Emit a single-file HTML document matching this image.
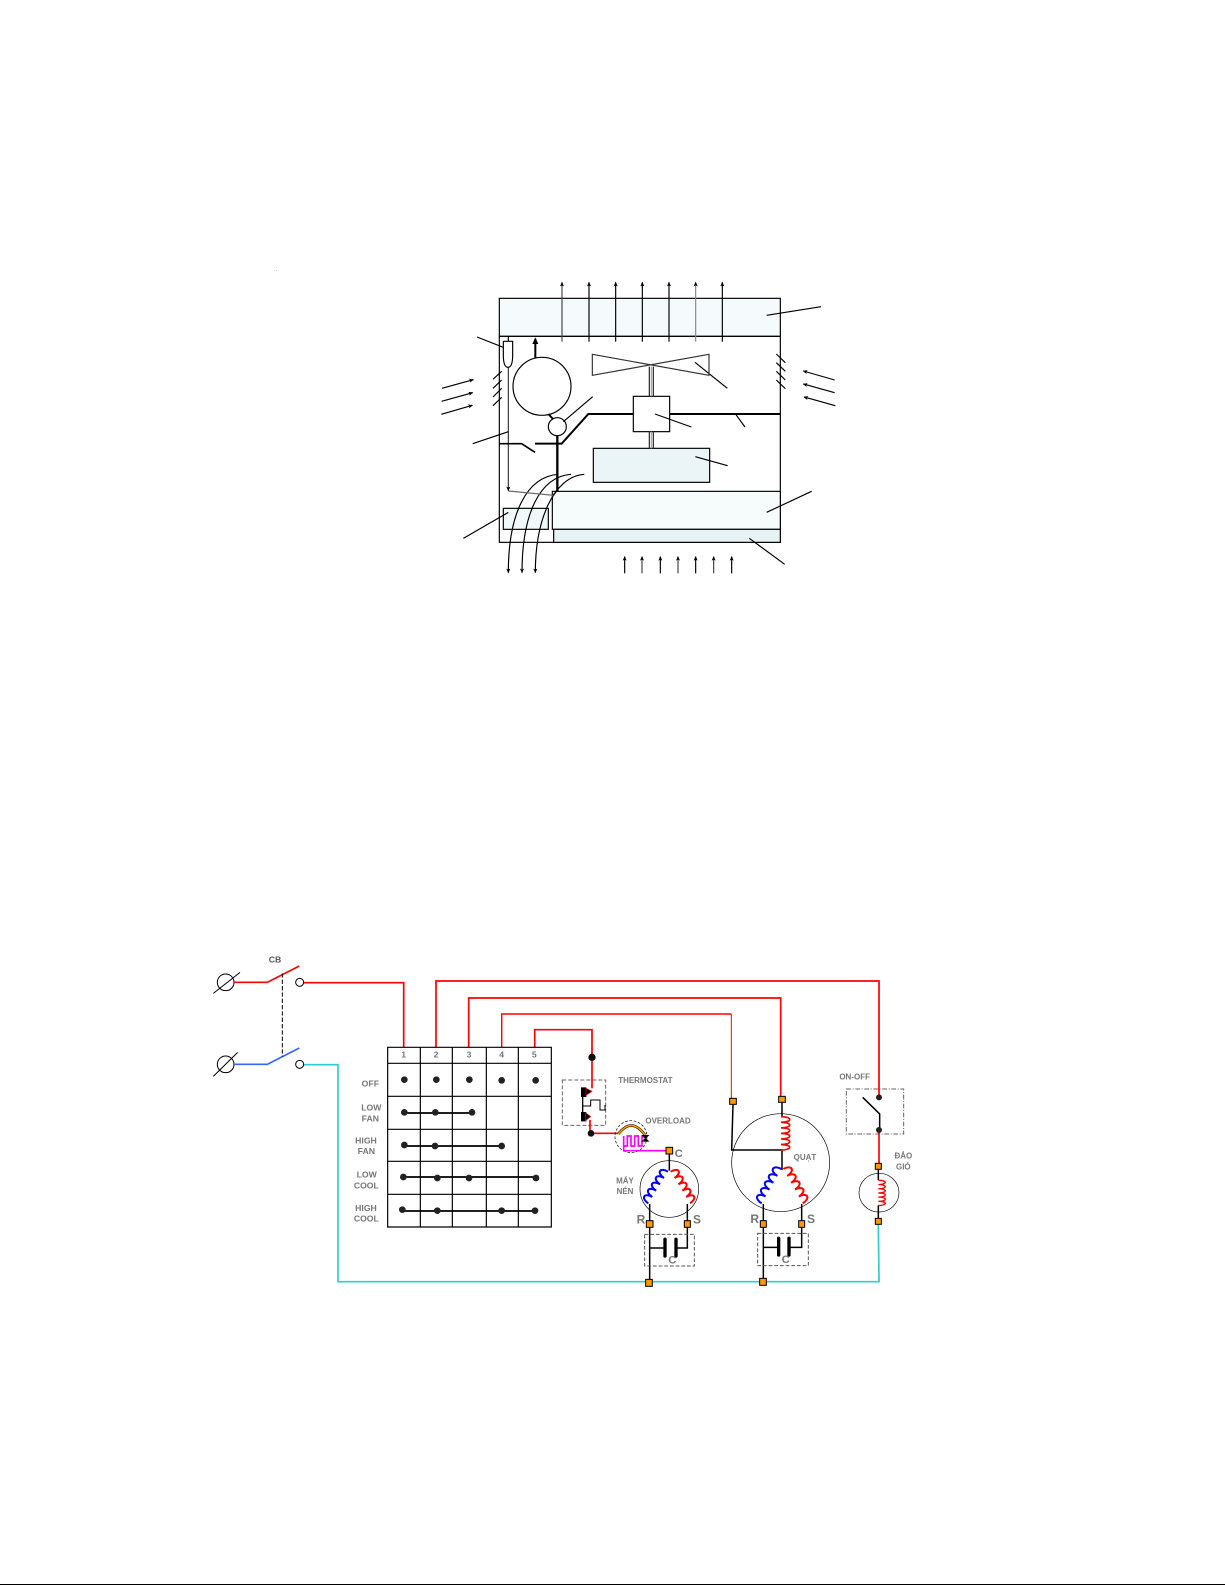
<!DOCTYPE html>
<html>
<head>
<meta charset="utf-8">
<style>
html,body{margin:0;padding:0;background:#fff;width:1225px;height:1585px;overflow:hidden}
svg{display:block}
text{font-family:"Liberation Sans",sans-serif;font-weight:bold;fill:#777;text-anchor:middle;stroke:none}
.t{filter:blur(.6px)}
.sq{fill:#f90;stroke:#000;stroke-width:3}
</style>
</head>
<body>
<svg width="1225" height="1585" viewBox="0 0 1225 1585" xmlns="http://www.w3.org/2000/svg">
<defs>
<marker id="a" markerUnits="userSpaceOnUse" markerWidth="16" markerHeight="14" refX="12" refY="6" orient="auto"><path d="M0 0L14 6L0 12L3 6Z" fill="#000"/></marker>
<marker id="b" markerUnits="userSpaceOnUse" markerWidth="22" markerHeight="22" refX="16" refY="10" orient="auto"><path d="M0 1L20 10L0 19Z" fill="#000"/></marker>
</defs>
<rect x="276" y="270" width="1" height="1" fill="#bbb"/>

<!-- TOP DIAGRAM -->
<g transform="translate(420 260) scale(.33333)" fill="none" stroke="#000" stroke-width="3.5">
<rect x="238" y="115" width="843" height="114" fill="#f5fbfc"/>
<rect x="238" y="229" width="843" height="618"/>
<rect x="520" y="565" width="349" height="102" fill="#ebf5f7"/>
<rect x="397" y="694" width="684" height="114" fill="#f6fbfc"/>
<rect x="401" y="808" width="680" height="39" fill="#e6f3f5"/>
<rect x="250" y="745" width="135" height="63" fill="#f1f8f9"/>
<rect x="640" y="409" width="109" height="106" fill="#fff"/>
<g>
<path d="M426 245V67" marker-end="url(#a)" stroke="#444"/>
<path d="M507 245V67" marker-end="url(#a)"/>
<path d="M587 245V67" marker-end="url(#a)"/>
<path d="M667 245V67" marker-end="url(#a)"/>
<path d="M747 245V67" marker-end="url(#a)"/>
<path d="M827 245V67" marker-end="url(#a)" stroke="#888"/>
<path d="M907 245V67" marker-end="url(#a)"/>
<path d="M614 940V890" marker-end="url(#a)"/>
<path d="M666 940V890" marker-end="url(#a)" stroke="#444"/>
<path d="M721 940V890" marker-end="url(#a)"/>
<path d="M774 940V890" marker-end="url(#a)" stroke="#444"/>
<path d="M827 940V890" marker-end="url(#a)"/>
<path d="M881 940V890" marker-end="url(#a)" stroke="#444"/>
<path d="M935 940V890" marker-end="url(#a)"/>
<path d="M66 385L160 359" marker-end="url(#a)"/>
<path d="M65 424L158 398" marker-end="url(#a)"/>
<path d="M64 463L157 436" marker-end="url(#a)"/>
<path d="M1244 360L1150 333" marker-end="url(#a)"/>
<path d="M1244 398L1150 372" marker-end="url(#a)"/>
<path d="M1246 437L1152 411" marker-end="url(#a)"/>
<path d="M265 322V692" marker-end="url(#a)" stroke="#333"/>
<path d="M415 643C320 650 265 760 265 938" marker-end="url(#a)"/>
<path d="M453 643C360 650 306 760 306 938" marker-end="url(#a)"/>
<path d="M493 643C400 650 346 780 346 938" marker-end="url(#a)"/>
</g>
<!-- leaders -->
<path d="M1040 166L1203 140M171 231L265 268M430 485L518 410M158 551L265 515M705 462L814 501M825 307L922 385M948 464L975 501M826 590L923 617M1040 757L1175 694M988 835L1094 913M130 835L265 757"/>
<!-- louvres -->
<path d="M219 358L245 334M219 385L245 360M219 411L245 385M219 437L245 412M1069 282L1096 308M1069 308L1096 334M1069 334L1096 360M1069 360L1096 386"/>
<!-- bulb -->
<path d="M265 229V244"/>
<path d="M250 244H278V285Q278 322 264 322Q250 322 250 285Z" fill="#fff"/>
<path d="M265 693L400 706" stroke="#666"/>
<!-- compressor/condenser circle -->
<path d="M346 295V236" stroke-width="6" marker-end="url(#b)"/>
<circle cx="366" cy="379" r="87"/>
<path d="M385 462L400 478" stroke-width="6"/>
<circle cx="412" cy="500" r="27"/>
<path d="M412 527V695" stroke-width="7"/>
<path d="M412 690L400 706" stroke-width="4"/>
<path d="M345 551H425L505 462H640M749 462H1081" stroke-width="6"/>
<path d="M238 551H305L345 577" stroke-width="5"/>
<!-- fan -->
<path d="M517 283L867 346V283L517 346Z" stroke="#333"/>
<path d="M688 320V409M700 320V409M688 515V565M700 515V565" stroke="#222"/>
<path d="M694 320V409M694 515V565" stroke="#999" stroke-width="3"/>
</g>

<!-- WIRES (absolute) -->
<g fill="none" stroke-width="1.7">
<path d="M303.700 1064.700H338V1281.700H879L878.300 1224" stroke="#33cccc"/>
<path d="M303.700 982.700H403.700V1047.300" stroke="#f00"/>
<path d="M436 1047.300V981H879V1097" stroke="#f00"/>
<path d="M468.700 1047.300V998H780.700V1100" stroke="#f00"/>
<path d="M501.700 1047.300V1014H731.300" stroke="#f00" stroke-width="1.400"/>
<path d="M731.300 1014V1101" stroke="#f00" stroke-width="1"/>
<path d="M534.700 1047.300V1029.700H592V1058" stroke="#f00"/>
</g>

<!-- LEFT PANEL -->
<g transform="translate(200 940) scale(.33333)" fill="none" stroke="#000" stroke-width="3">
<circle cx="77" cy="127" r="25"/>
<path d="M40 160L120 97"/>
<circle cx="77" cy="373" r="25"/>
<path d="M40 409L113 337"/>
<path d="M102 127H202L298 78" stroke="#f00" stroke-width="5"/>
<path d="M102 373H202L298 324" stroke="#36f" stroke-width="5"/>
<path d="M247 100V350" stroke-dasharray="13 6"/>
<circle cx="299" cy="127" r="12"/>
<circle cx="299" cy="373" r="12"/>
<path d="M563 322H1054V861H563ZM661 322V861M757 322V861M859 322V861M955 322V861M563 370H1054M563 469H1054M563 568H1054M563 664H1054M563 763H1054" stroke-width="3.500"/>
<path d="M613 519H816M613 618H905M610 711H1008M607 813H1005" stroke-width="5"/>
<g fill="#222" stroke="none">
<circle cx="613" cy="419" r="10"/><circle cx="709" cy="419" r="10"/><circle cx="808" cy="419" r="10"/><circle cx="905" cy="421" r="10"/><circle cx="1007" cy="421" r="10"/>
<circle cx="613" cy="517" r="10"/><circle cx="706" cy="517" r="10"/><circle cx="816" cy="517" r="10"/>
<circle cx="613" cy="615" r="10"/><circle cx="705" cy="618" r="10"/><circle cx="905" cy="618" r="10"/>
<circle cx="610" cy="711" r="10"/><circle cx="712" cy="714" r="10"/><circle cx="807" cy="714" r="10"/><circle cx="1008" cy="714" r="10"/>
<circle cx="607" cy="809" r="10"/><circle cx="712" cy="812" r="10"/><circle cx="905" cy="812" r="10"/><circle cx="1005" cy="812" r="10"/>
</g>
<g class="t" font-size="26">
<text x="225" y="67" style="fill:#555">CB</text>
<text x="611" y="353">1</text><text x="708" y="353">2</text><text x="807" y="353">3</text><text x="905" y="353">4</text><text x="1003" y="353">5</text>
<text x="511" y="440">OFF</text>
<text x="514" y="511">LOW</text><text x="511" y="545">FAN</text>
<text x="498" y="610">HIGH</text><text x="499" y="642">FAN</text>
<text x="500" y="713">LOW</text><text x="499" y="745">COOL</text>
<text x="498" y="813">HIGH</text><text x="499" y="845">COOL</text>
</g>
</g>

<!-- RIGHT PANEL -->
<g transform="translate(550 1020) scale(.33333)" fill="none" stroke="#000" stroke-width="3">
<!-- thermostat -->
<rect x="37" y="180" width="130" height="136" stroke="#666" stroke-dasharray="12 6"/>
<path d="M126 112V205" stroke="#f00" stroke-width="5"/>
<path d="M98 205V300" stroke-width="4"/>
<path d="M98 258H122V240H150V270H165V255"/>
<path d="M94 203H108V230H94ZM94 277H108V303H94Z" fill="#000" stroke-width="2"/>
<path d="M108 205L126 214L108 226ZM106 278L122 290L106 302Z" fill="#000" stroke="#d00" stroke-width="2"/>
<path d="M120 300V340H205" stroke="#f00" stroke-width="5"/>
<circle cx="126" cy="112" r="11" fill="#111" stroke="none"/>
<circle cx="123" cy="340" r="10" fill="#111" stroke="none"/>
<!-- overload -->
<circle cx="243" cy="350" r="48" stroke-dasharray="8 5" stroke-width="2"/>
<path d="M205 342Q245 290 285 345" stroke="#000" stroke-width="8"/>
<path d="M205 342Q245 290 285 345" stroke="#f90" stroke-width="5"/>
<path d="M221 348V392H358M221 378H232V348H243V378H254V348H265V378H276V350H286" stroke="#f0f" stroke-width="5"/>
<path d="M276 346L296 346L276 364L296 364Z" fill="#000" stroke-width="2"/>
<!-- compressor -->
<ellipse cx="358" cy="507" rx="88" ry="85" stroke-width="2"/>
<path d="M358 402V452M299 552V790M412 552V684H378M297 684H345" stroke-width="4.500"/>
<path d="M354 455a11 21 122 0 0-11.800 19a11 21 122 0 0-11.800 19a11 21 122 0 0-11.800 19a11 21 122 0 0-11.800 19a11 21 122 0 0-11.800 19" stroke="#00f" stroke-width="6"/>
<path d="M362 455a11 21 58 0 1 11.600 19a11 21 58 0 1 11.600 19a11 21 58 0 1 11.600 19a11 21 58 0 1 11.600 19a11 21 58 0 1 11.600 19" stroke="#f00" stroke-width="6"/>
<path d="M345 658V708M378 658V708" stroke-width="10" stroke-linecap="round"/>
<rect x="284" y="643" width="149" height="95" stroke="#555" stroke-dasharray="11 6"/>
<!-- fan motor -->
<circle cx="692" cy="428" r="147" stroke-width="2"/>
<path d="M696 248V290M549 254L545 390H696V450M640 552V785M755 552V682H718M640 682H686" stroke-width="4.500"/>
<path d="M693 290a8.300 26 90 0 1 0 16.700a8.300 26 90 0 1 0 16.700a8.300 26 90 0 1 0 16.700a8.300 26 90 0 1 0 16.700a8.300 26 90 0 1 0 16.700a8.300 26 90 0 1 0 16.700" stroke="#f00" stroke-width="5"/>
<path d="M694 447a11.800 22 120 0 0-11.800 20.600a11.800 22 120 0 0-11.800 20.600a11.800 22 120 0 0-11.800 20.600a11.800 22 120 0 0-11.800 20.600a11.800 22 120 0 0-11.800 20.600" stroke="#00f" stroke-width="6"/>
<path d="M700 447a11.800 22 60 0 1 11.600 20.600a11.800 22 60 0 1 11.600 20.600a11.800 22 60 0 1 11.600 20.600a11.800 22 60 0 1 11.600 20.600a11.800 22 60 0 1 11.600 20.600" stroke="#f00" stroke-width="6"/>
<path d="M686 655V705M717 655V705" stroke-width="10" stroke-linecap="round"/>
<rect x="623" y="640" width="152" height="97" stroke="#555" stroke-dasharray="11 6"/>
<!-- on-off and blower -->
<rect x="889" y="207" width="172" height="135" stroke="#666" stroke-dasharray="14 5 3 5"/>
<path d="M987 330V440" stroke="#f00" stroke-width="5"/>
<path d="M938 232L989 282V330" stroke-width="4.500"/>
<circle cx="987" cy="232" r="9" fill="#222" stroke="none"/>
<circle cx="987" cy="330" r="9" fill="#222" stroke="none"/>
<ellipse cx="987" cy="518" rx="60" ry="58" stroke-width="2"/>
<path d="M985 449V480M985 556V596" stroke-width="4.500"/>
<path d="M985 481a6.300 21 90 0 1 0 12.600a6.300 21 90 0 1 0 12.600a6.300 21 90 0 1 0 12.600a6.300 21 90 0 1 0 12.600a6.300 21 90 0 1 0 12.600a6.300 21 90 0 1 0 12.600" stroke="#f00" stroke-width="4"/>
<!-- terminals -->
<rect class="sq" x="348" y="382" width="20" height="20"/>
<rect class="sq" x="289" y="602" width="20" height="20"/>
<rect class="sq" x="403" y="602" width="18" height="20"/>
<rect class="sq" x="287" y="778" width="20" height="21"/>
<rect class="sq" x="539" y="235" width="20" height="18"/>
<rect class="sq" x="686" y="229" width="20" height="18"/>
<rect class="sq" x="631" y="602" width="18" height="20"/>
<rect class="sq" x="746" y="602" width="18" height="20"/>
<rect class="sq" x="629" y="775" width="20" height="21"/>
<rect class="sq" x="976" y="430" width="18" height="18"/>
<rect class="sq" x="976" y="595" width="18" height="18"/>
<g class="t" font-size="24">
<text x="286" y="189">THERMOSTAT</text>
<text x="354" y="311">OVERLOAD</text>
<text x="386" y="411" style="font-size:34px">C</text>
<text x="225" y="491">MÁY</text>
<text x="225" y="522">NÉN</text>
<text x="273" y="611" style="font-size:36px">R</text>
<text x="441" y="611" style="font-size:36px">S</text>
<text x="367" y="730" style="font-size:34px">C</text>
<text x="765" y="420">QUẠT</text>
<text x="614" y="609" style="font-size:36px">R</text>
<text x="783" y="609" style="font-size:36px">S</text>
<text x="707" y="729" style="font-size:34px">C</text>
<text x="914" y="179">ON-OFF</text>
<text x="1060" y="416">ĐẢO</text>
<text x="1060" y="449">GIÓ</text>
</g>
</g>

<rect x="0" y="1584" width="1225" height="1" fill="#000"/>
</svg>
</body>
</html>
